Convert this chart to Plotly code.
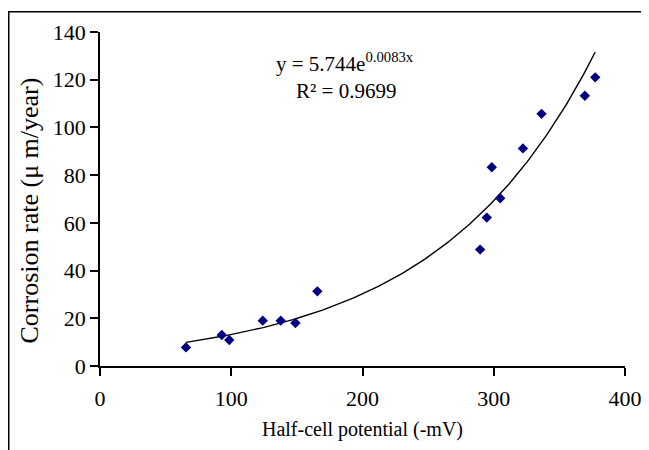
import numpy as np
import plotly.graph_objects as go

# Data
potential_mv = [65.5, 92.8, 98.5, 124.0, 137.7, 148.9, 165.6, 289.6, 294.7,
                298.5, 304.9, 322.2, 336.4, 369.4, 377.3]
corrosion_rate = [7.8, 13.0, 10.9, 19.0, 19.0, 18.0, 31.3, 48.8, 62.2,
                  83.3, 70.3, 91.2, 105.7, 113.3, 121.0]

# Exponential trendline coefficients as displayed on the chart
trend_a = 5.744
trend_b = 0.0083
equation_text = "y = 5.744e<sup>0.0083x</sup>"
r2_text = "R² = 0.9699"

x_ticks = [0, 100, 200, 300, 400]
y_ticks = [0, 20, 40, 60, 80, 100, 120, 140]

tx = np.linspace(min(potential_mv), max(potential_mv), 200)
ty = trend_a * np.exp(trend_b * tx)

FONT = "Liberation Serif, Times New Roman, serif"

fig = go.Figure()
fig.add_trace(go.Scatter(x=tx, y=ty, mode="lines",
                         line=dict(color="black", width=1.4),
                         hoverinfo="skip", showlegend=False))
fig.add_trace(go.Scatter(x=potential_mv, y=corrosion_rate, mode="markers",
                         marker=dict(symbol="diamond", size=8, color="#000080"),
                         showlegend=False))

fig.update_layout(
    width=649, height=450,
    margin=dict(l=92, r=32, t=21, b=92),
    paper_bgcolor="white", plot_bgcolor="white",
    font=dict(family=FONT, color="black"),
    showlegend=False,
)
fig.update_xaxes(range=[0, 400], tickvals=x_ticks, showgrid=False, zeroline=False,
                 showline=True, linecolor="black", linewidth=1.5,
                 ticks="outside", ticklen=8, tickwidth=1.5, tickcolor="black",
                 ticklabelstandoff=4,
                 tickfont=dict(size=22, family=FONT),
                 title=dict(text="Half-cell potential (-mV)", font=dict(size=20, family=FONT), standoff=12))
fig.update_yaxes(range=[0, 140], tickvals=y_ticks, showgrid=False, zeroline=False,
                 showline=True, linecolor="black", linewidth=1.5,
                 ticks="outside", ticklen=8, tickwidth=1.5, tickcolor="black",
                 tickfont=dict(size=22, family=FONT))

fig.add_annotation(x=-0.135, y=0.466, xref="paper", yref="paper",
                   text="Corrosion rate (μ m/year)", textangle=-90, showarrow=False,
                   font=dict(size=26, family=FONT), xanchor="center", yanchor="middle")
fig.add_annotation(x=186.7, y=127.3, xref="x", yref="y", text=equation_text,
                   showarrow=False, font=dict(size=21, family=FONT),
                   xanchor="center", yanchor="middle")
fig.add_annotation(x=187.4, y=115.2, xref="x", yref="y", text=r2_text,
                   showarrow=False, font=dict(size=21, family=FONT),
                   xanchor="center", yanchor="middle")

fig.add_shape(type="rect", xref="paper", yref="paper",
              x0=-0.1738, x1=1.3, y0=-0.6, y1=1.061,
              line=dict(color="black", width=1.5), fillcolor="rgba(0,0,0,0)", layer="below")

fig.write_html("out.html")
